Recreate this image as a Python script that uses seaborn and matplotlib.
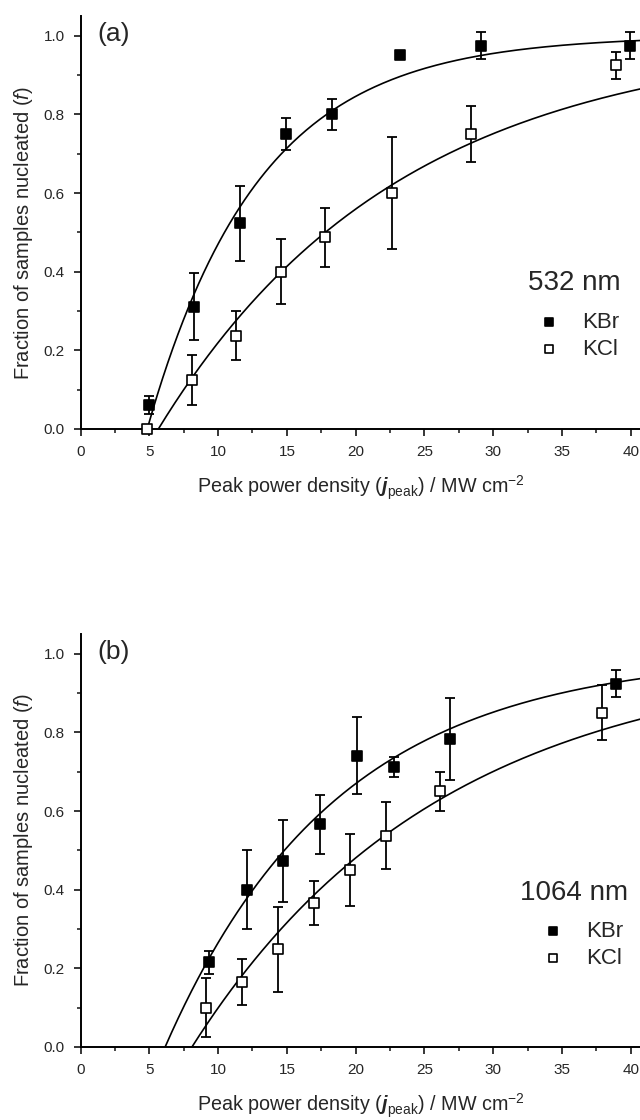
import numpy as np
import pandas as pd
import seaborn as sns
import matplotlib.pyplot as plt
from matplotlib.ticker import MultipleLocator

sns.set_theme(style="ticks")
plt.rcParams['font.family'] = ['Liberation Sans', 'DejaVu Sans']
plt.rcParams['mathtext.fontset'] = 'custom'
plt.rcParams['mathtext.rm'] = 'Liberation Sans'
plt.rcParams['mathtext.it'] = 'Liberation Sans:italic'
plt.rcParams['mathtext.bf'] = 'Liberation Sans:bold'
plt.rcParams['mathtext.bfit'] = 'Liberation Sans:italic:bold'

# Panel (a), 532 nm
a_kbr_x = [4.96, 8.27, 11.6, 14.95, 18.3, 23.2, 29.1, 39.9]
a_kbr_y = [0.061, 0.311, 0.523, 0.75, 0.80, 0.95, 0.975, 0.975]
a_kbr_err = [0.024, 0.085, 0.095, 0.04, 0.04, 0.0, 0.035, 0.035]
a_kcl_x = [4.84, 8.08, 11.3, 14.54, 17.78, 22.67, 28.37, 38.9]
a_kcl_y = [0.0, 0.125, 0.237, 0.40, 0.487, 0.60, 0.75, 0.925]
a_kcl_err = [0.0, 0.064, 0.062, 0.082, 0.075, 0.142, 0.071, 0.035]

# Panel (b), 1064 nm
b_kbr_x = [9.36, 12.07, 14.73, 17.42, 20.08, 22.79, 26.83, 38.9]
b_kbr_y = [0.215, 0.40, 0.473, 0.566, 0.741, 0.712, 0.783, 0.924]
b_kbr_err = [0.03, 0.10, 0.105, 0.076, 0.097, 0.025, 0.105, 0.034]
b_kcl_x = [9.12, 11.73, 14.37, 17.0, 19.6, 22.23, 26.13, 37.9]
b_kcl_y = [0.10, 0.166, 0.249, 0.366, 0.45, 0.537, 0.65, 0.85]
b_kcl_err = [0.075, 0.058, 0.108, 0.057, 0.092, 0.085, 0.049, 0.07]

# fitted curves f = 1 - exp(-(j - j0)/tau): (j0, tau)
a_kbr_fit = (4.85, 8.1)
a_kcl_fit = (5.66, 17.5)
b_kbr_fit = (6.15, 12.5)
b_kcl_fit = (8.1, 18.15)

panels = [
    ("(a)", "532 nm", (a_kbr_x, a_kbr_y, a_kbr_err, a_kbr_fit),
     (a_kcl_x, a_kcl_y, a_kcl_err, a_kcl_fit), 0.6170, 0.475, 283, 336, 538),
    ("(b)", "1064 nm", (b_kbr_x, b_kbr_y, b_kbr_err, b_kbr_fit),
     (b_kcl_x, b_kcl_y, b_kcl_err, b_kcl_fit), 0.0652, 0.5, 893, 945, 542),
]

W, H = 640, 1120
fig = plt.figure(figsize=(6.4, 11.2), dpi=100)
axw = 42 * 13.76 / W

for tag, wl, kbr, kcl, bottom, ylab_y, wl_y, leg_y, leg_x in panels:
    ax = fig.add_axes([80.5 / W, bottom, axw, 0.3686])

    for (xs, ys, err, fit), face, name in [(kbr, 'black', 'KBr'), (kcl, 'white', 'KCl')]:
        j0, tau = fit
        jj = np.linspace(j0, 42, 300)
        curve = pd.DataFrame({'x': jj, 'y': 1 - np.exp(-(jj - j0) / tau)})
        sns.lineplot(data=curve, x='x', y='y', ax=ax, color='black', lw=1.2)

        xs_e = [x for x, e in zip(xs, err) if e > 0]
        ys_e = [y for y, e in zip(ys, err) if e > 0]
        es = [e for e in err if e > 0]
        ax.errorbar(xs_e, ys_e, yerr=es, fmt='none', ecolor='black',
                    elinewidth=1.3, capsize=3.5, capthick=1.3, zorder=3)
        pts = pd.DataFrame({'x': xs, 'y': ys})
        sns.scatterplot(data=pts, x='x', y='y', ax=ax, marker='s', s=55,
                        color=face, edgecolor='black', linewidth=1.2,
                        zorder=4, label=name, clip_on=False)

    ax.set_xlim(0, 42)
    ax.set_ylim(0, 1.05)
    ax.xaxis.set_major_locator(MultipleLocator(5))
    ax.xaxis.set_minor_locator(MultipleLocator(2.5))
    ax.yaxis.set_major_locator(MultipleLocator(0.2))
    ax.yaxis.set_minor_locator(MultipleLocator(0.1))
    ax.yaxis.set_major_formatter(plt.FormatStrFormatter('%.1f'))
    ax.tick_params(which='major', length=5, width=1.3, labelsize=11, direction='out', pad=6.5)
    ax.tick_params(which='minor', length=3, width=1.2, direction='out')
    for s in ['top', 'right']:
        ax.spines[s].set_visible(False)
    for s in ['left', 'bottom']:
        ax.spines[s].set_linewidth(1.4)
        ax.spines[s].set_color('black')

    ax.set_xlabel(r'Peak power density ($\mathbfit{j}_{\rm peak}$) / MW cm$^{-2}$',
                  fontsize=14.2)
    ax.xaxis.set_label_coords(280.5 / (42 * 13.76), -0.107)
    ax.set_ylabel(r'Fraction of samples nucleated ($\mathit{f}$)', fontsize=14.5)
    ax.yaxis.set_label_coords(-0.078, ylab_y)

    ax.text(0.03, 0.985, tag, transform=ax.transAxes, fontsize=19, va='top', ha='left')
    fig.text(574 / W, 1 - wl_y / H, wl, fontsize=20, ha='center', va='center')

    ax.legend(loc='center left', bbox_to_anchor=(leg_x / W, 1 - leg_y / H),
              bbox_transform=fig.transFigure, borderpad=0,
              frameon=False, fontsize=16, markerscale=0.7, handlelength=1.0,
              handletextpad=1.0, labelspacing=0.25, borderaxespad=0)

fig.savefig('out.png', dpi=100)
